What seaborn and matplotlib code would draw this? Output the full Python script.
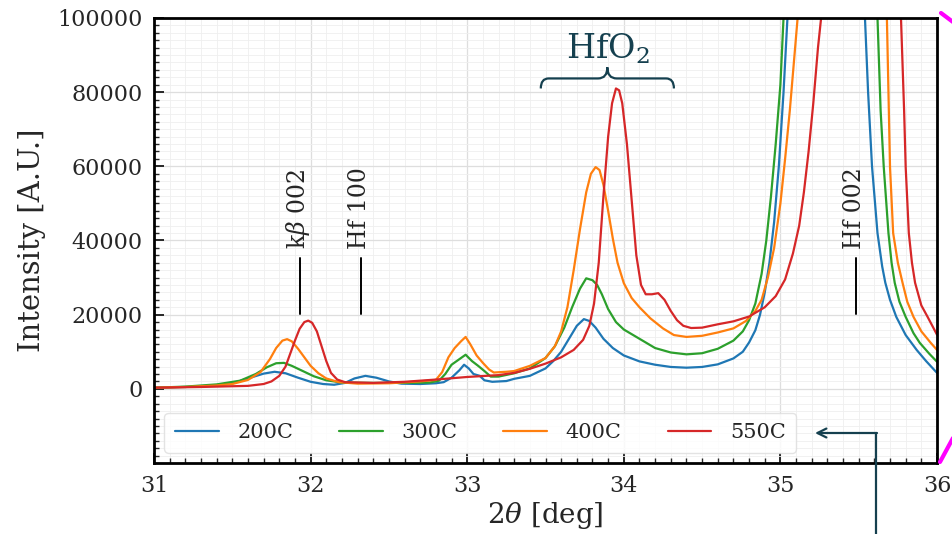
import numpy as np
import pandas as pd
import matplotlib
matplotlib.use("Agg")
import matplotlib.pyplot as plt
import seaborn as sns
from matplotlib.path import Path
from matplotlib.patches import PathPatch
from matplotlib.lines import Line2D
from matplotlib.ticker import MultipleLocator

# ---------------- data ----------------
x_200 = [31.0, 31.2, 31.4, 31.5, 31.6, 31.7, 31.77, 31.84, 31.92, 32.0, 32.08, 32.15,
         32.22, 32.28, 32.35, 32.42, 32.5, 32.58, 32.7, 32.8, 32.85, 32.9, 32.95, 32.98,
         33.01, 33.04, 33.08, 33.11, 33.16, 33.25, 33.3, 33.4, 33.5, 33.55, 33.6, 33.65,
         33.7, 33.745, 33.78, 33.82, 33.87, 33.93, 34.0, 34.1, 34.2, 34.3, 34.4, 34.5,
         34.6, 34.7, 34.76, 34.8, 34.84, 34.87, 34.9, 34.93, 34.96, 34.99, 35.02, 35.045,
         35.1, 35.3, 35.5, 35.54, 35.56, 35.585, 35.62, 35.65, 35.67, 35.7, 35.74, 35.8,
         35.87, 35.93, 36.0]
y_200 = [300, 500, 900, 1500, 2800, 4100, 4600, 4200, 3000, 1900, 1300, 1100,
         1600, 2800, 3500, 3000, 2000, 1400, 1300, 1500, 1800, 3000, 5000, 6500,
         5500, 4000, 3500, 2300, 1900, 2100, 2700, 3500, 5500, 7500, 10000, 13500,
         17000, 18800, 18300, 16500, 13500, 11000, 9000, 7400, 6500, 5900, 5700, 5900,
         6600, 8200, 10000, 12500, 15800, 20000, 26000, 34000, 45000, 60000, 80000, 100000,
         150000, 300000, 130000, 100000, 80000, 60000, 42000, 33000, 28600, 24000, 19400, 14500,
         10500, 7500, 4300]

x_300 = [31.0, 31.2, 31.4, 31.55, 31.65, 31.72, 31.78, 31.83, 31.88, 31.95, 32.02, 32.1,
         32.2, 32.4, 32.6, 32.76, 32.82, 32.86, 32.9, 32.95, 32.99, 33.03, 33.07, 33.11,
         33.15, 33.2, 33.3, 33.4, 33.5, 33.56, 33.62, 33.67, 33.72, 33.76, 33.8, 33.83,
         33.86, 33.9, 33.95, 34.0, 34.1, 34.2, 34.3, 34.4, 34.5, 34.6, 34.7, 34.76,
         34.8, 34.84, 34.88, 34.91, 34.94, 34.97, 35.0, 35.02, 35.1, 35.3, 35.58, 35.62,
         35.64, 35.66, 35.69, 35.71, 35.73, 35.76, 35.8, 35.85, 35.89, 35.95, 36.0]
y_300 = [300, 600, 1200, 2200, 4000, 5800, 6900, 7000, 6200, 4800, 3400, 2300,
         1700, 1600, 1600, 1700, 2200, 4000, 6500, 8000, 9200, 7500, 6200, 4800,
         3300, 3300, 4200, 5500, 8300, 11500, 16500, 22000, 27000, 29800, 29300, 28000,
         25500, 21500, 18000, 16000, 13500, 11000, 9800, 9300, 9600, 10800, 13000, 15500,
         18500, 23000, 31000, 40000, 52000, 66000, 82000, 100000, 160000, 320000, 130000, 100000,
         75000, 59800, 42000, 34000, 28600, 23500, 19400, 15000, 12400, 9500, 7300]

x_400 = [31.0, 31.2, 31.4, 31.5, 31.6, 31.68, 31.74, 31.78, 31.82, 31.85, 31.88, 31.92,
         31.96, 32.0, 32.05, 32.1, 32.18, 32.3, 32.5, 32.7, 32.8, 32.84, 32.88, 32.92,
         32.96, 32.99, 33.02, 33.06, 33.1, 33.14, 33.17, 33.25, 33.3, 33.4, 33.5, 33.56,
         33.6, 33.64, 33.68, 33.72, 33.76, 33.79, 33.82, 33.845, 33.87, 33.9, 33.93, 33.96,
         34.0, 34.05, 34.1, 34.17, 34.25, 34.32, 34.4, 34.5, 34.6, 34.7, 34.78, 34.84,
         34.88, 34.92, 34.96, 35.0, 35.03, 35.06, 35.09, 35.11, 35.2, 35.4, 35.64, 35.68,
         35.69, 35.7, 35.72, 35.75, 35.78, 35.81, 35.85, 35.9, 35.96, 36.0]
y_400 = [300, 500, 900, 1300, 2400, 4500, 8000, 11000, 13000, 13400, 12800, 10800,
         8500, 6200, 4200, 2800, 1800, 1400, 1500, 2000, 2400, 4500, 8500, 11000,
         12800, 14000, 12000, 9000, 7000, 5200, 4400, 4600, 4800, 6200, 8300, 11500,
         15500, 22000, 32000, 43000, 53000, 58000, 59800, 59000, 55000, 48000, 40500, 34000,
         28500, 24500, 22000, 19000, 16300, 14500, 14000, 14300, 15200, 16300, 18300, 21000,
         24000, 30000, 38000, 50000, 62000, 75000, 90000, 100000, 170000, 330000, 130000, 100000,
         80000, 59800, 42000, 34000, 28600, 23500, 19400, 15500, 12400, 10500]

x_550 = [31.0, 31.3, 31.6, 31.7, 31.75, 31.8, 31.84, 31.87, 31.9, 31.93, 31.96, 31.985,
         32.01, 32.04, 32.07, 32.1, 32.13, 32.17, 32.22, 32.4, 32.6, 32.8, 33.0, 33.2,
         33.3, 33.4, 33.5, 33.6, 33.68, 33.74, 33.78, 33.81, 33.84, 33.87, 33.9, 33.925,
         33.95, 33.97, 33.99, 34.02, 34.05, 34.08, 34.11, 34.14, 34.18, 34.22, 34.26, 34.3,
         34.34, 34.38, 34.43, 34.5, 34.6, 34.7, 34.8, 34.9, 34.97, 35.03, 35.08, 35.12,
         35.15, 35.18, 35.21, 35.24, 35.26, 35.35, 35.5, 35.72, 35.77, 35.79, 35.8, 35.82,
         35.84, 35.86, 35.9, 35.94, 36.0]
y_550 = [300, 500, 800, 1300, 2000, 3500, 6000, 9500, 13000, 16200, 18000, 18400,
         17800, 15500, 11500, 7500, 4300, 2500, 1800, 1600, 1900, 2500, 3200, 3700,
         4300, 5400, 6800, 8500, 10500, 13200, 17000, 23000, 34000, 52000, 68000, 77000,
         81000, 80500, 77000, 66000, 51000, 36000, 28000, 25500, 25500, 25800, 24000, 21000,
         18500, 17000, 16400, 16500, 17400, 18200, 19500, 22000, 25000, 29500, 36500, 44000,
         53000, 64000, 77000, 92000, 100000, 170000, 300000, 130000, 100000, 75000, 59800, 42000,
         34000, 28600, 22500, 19400, 14600]

series = ["200C", "300C", "400C", "550C"]
colors = ["#1f77b4", "#2ca02c", "#ff7f0e", "#d62728"]

peak_labels = ["k$\\beta$ 002", "Hf 100", "Hf 002"]
peak_pos = [31.93, 32.32, 35.48]

x_ticks = [31, 32, 33, 34, 35, 36]
y_ticks = [0, 20000, 40000, 60000, 80000, 100000]

df = pd.concat([
    pd.DataFrame({"x": xs, "y": ys, "T": name})
    for xs, ys, name in zip([x_200, x_300, x_400, x_550],
                            [y_200, y_300, y_400, y_550], series)
], ignore_index=True)

# ---------------- style ----------------
sns.set_style("ticks")
plt.rcParams["font.family"] = ["DejaVu Serif"]
plt.rcParams["mathtext.fontset"] = "dejavuserif"

fig = plt.figure(figsize=(9.53, 5.34), dpi=100)
ax = fig.add_axes([154 / 953, 71 / 534, 783 / 953, 445 / 534])

sns.lineplot(data=df, x="x", y="y", hue="T", palette=dict(zip(series, colors)),
             estimator=None, sort=False, lw=1.6, ax=ax)

ax.set_xlim(31, 36)
ax.set_ylim(-20000, 100000)
ax.set_xticks(x_ticks)
ax.set_yticks(y_ticks)
ax.xaxis.set_minor_locator(MultipleLocator(0.1))
ax.yaxis.set_minor_locator(MultipleLocator(2000))
ax.tick_params(which="major", direction="in", length=7, width=1.4, labelsize=16,
               top=False, right=False)
ax.tick_params(axis="x", which="major", pad=9)
ax.tick_params(axis="y", which="major", pad=8)
ax.tick_params(which="minor", direction="in", length=3.5, width=1.0, top=False, right=False)
ax.grid(which="major", color="#dedede", lw=0.9)
ax.grid(which="minor", color="#efefef", lw=0.6)
for s in ax.spines.values():
    s.set_linewidth(2)
    s.set_color("black")

ax.set_xlabel("$2\\theta$ [deg]", fontsize=20, labelpad=2)
ax.set_ylabel("Intensity [A.U.]", fontsize=21, labelpad=8)

# peak markers
for lab, pos in zip(peak_labels, peak_pos):
    ax.plot([pos, pos], [20200, 35300], color="black", lw=1.4)
    ax.text(pos - 0.01, 37800, lab, rotation=90, ha="center", va="bottom", fontsize=17)

# HfO2 brace
teal = "#15404f"
x0, x1, xm = 33.47, 34.32, 33.895
yb, yh, yc = 81000, 83700, 86700
verts = [(x0, yb), (x0, yh), (x0 + 0.05, yh),
         (xm - 0.06, yh), (xm, yh), (xm, yc),
         (xm, yh), (xm + 0.06, yh),
         (x1 - 0.05, yh), (x1, yh), (x1, yb)]
codes = [Path.MOVETO, Path.CURVE3, Path.CURVE3,
         Path.LINETO, Path.CURVE3, Path.CURVE3,
         Path.CURVE3, Path.CURVE3,
         Path.LINETO, Path.CURVE3, Path.CURVE3]
ax.add_patch(PathPatch(Path(verts, codes), fill=False, edgecolor=teal, lw=1.6))
ax.text(xm, 89000, "HfO$_2$", ha="center", va="baseline", fontsize=24, color=teal)

# legend
leg = ax.legend(loc="lower left", bbox_to_anchor=(0.0, 0.0), ncol=4, fontsize=15,
                handlelength=2.1, handletextpad=0.9, columnspacing=2.2,
                frameon=True, fancybox=True, borderpad=0.5)
leg.get_frame().set_edgecolor("#dddddd")
leg.get_frame().set_linewidth(1.0)
leg.set_title(None)

# arrow pointing to legend
fig.add_artist(Line2D([876 / 953, 876 / 953], [0, 101 / 534], color=teal, lw=1.6,
                      transform=fig.transFigure, zorder=20))
ann = ax.annotate("", xy=(815, 101), xytext=(877, 101), xycoords="figure pixels",
                  textcoords="figure pixels", annotation_clip=False,
                  arrowprops=dict(arrowstyle="->", color=teal, lw=1.6,
                                  shrinkA=0, shrinkB=0, mutation_scale=16))
ann.set_zorder(20)

# magenta marks at right edge
fig.add_artist(Line2D([941 / 953, 953 / 953], [521 / 534, 512 / 534], color="#ff00ff",
                      lw=3, transform=fig.transFigure))
fig.add_artist(Line2D([940 / 953, 953 / 953], [72 / 534, 96 / 534], color="#ff00ff",
                      lw=3, transform=fig.transFigure))

fig.savefig("out.png", dpi=100)
